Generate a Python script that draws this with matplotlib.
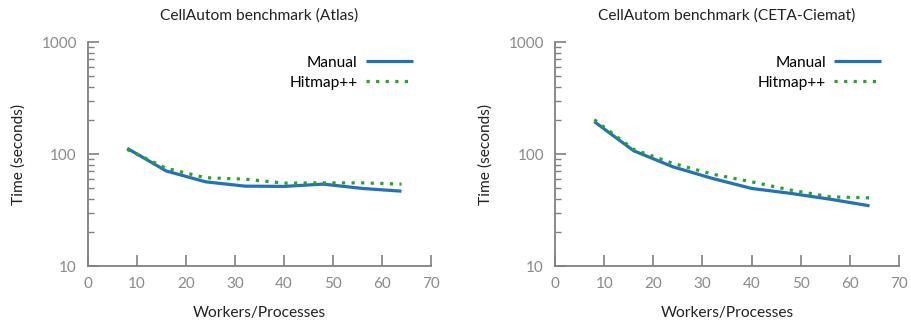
import matplotlib
matplotlib.use("Agg")
import matplotlib.pyplot as plt
from matplotlib.ticker import LogLocator, FixedLocator, NullFormatter

plt.rcParams['font.family'] = ['Lato', 'DejaVu Sans']

workers = [8, 16, 24, 32, 40, 48, 56, 64]

atlas_manual = [112.5, 70.5, 56.5, 51.7, 51.4, 53.9, 49.3, 46.6]
atlas_hitmap = [110.0, 74.5, 61.5, 59.7, 55.0, 55.3, 55.3, 53.9]

ceta_manual = [194.6, 107.0, 76.9, 60.6, 49.3, 44.5, 39.5, 34.5]
ceta_hitmap = [202.8, 110.0, 82.6, 66.2, 56.5, 47.6, 41.5, 40.6]

titles = ["CellAutom benchmark (Atlas)", "CellAutom benchmark (CETA-Ciemat)"]
x_ticks = [0, 10, 20, 30, 40, 50, 60, 70]
y_ticks = [10, 100, 1000]

BLUE = "#2272b4"
GREEN = "#2ca02c"
GRAY = "#808080"
TICKTXT = "#8a8a8a"
FS = 11.2

fig = plt.figure(figsize=(9.12, 3.25), dpi=100)
positions = [[0.0965, 0.1815, 0.376, 0.689], [0.6086, 0.1815, 0.3772, 0.689]]
series = [(atlas_manual, atlas_hitmap), (ceta_manual, ceta_hitmap)]

for pos, title, (manual, hitmap) in zip(positions, titles, series):
    ax = fig.add_axes(pos)
    ax.plot(workers, manual, color=BLUE, lw=2.3, label="Manual", solid_capstyle="butt")
    ax.plot(workers, hitmap, color=GREEN, lw=2.3, linestyle=(0, (1, 2)), label="Hitmap++")
    ax.set_yscale("log")
    ax.set_xlim(0, 70)
    ax.set_ylim(10, 1000)
    ax.xaxis.set_major_locator(FixedLocator(x_ticks))
    ax.yaxis.set_major_locator(FixedLocator(y_ticks))
    ax.set_yticklabels([str(v) for v in y_ticks])
    ax.yaxis.set_minor_locator(LogLocator(base=10, subs=range(2, 10)))
    ax.yaxis.set_minor_formatter(NullFormatter())
    for side in ("top", "right"):
        ax.spines[side].set_visible(False)
    for side in ("left", "bottom"):
        ax.spines[side].set_color(GRAY)
        ax.spines[side].set_linewidth(1.3)
    ax.tick_params(which="major", direction="in", length=8, width=1.2, color=GRAY,
                   labelcolor=TICKTXT, labelsize=11, pad=8)
    ax.tick_params(which="minor", direction="in", length=4, width=1.0, color=GRAY)
    ax.set_title(title, fontsize=FS, pad=16, color="#222222")
    ax.set_xlabel("Workers/Processes", fontsize=FS, labelpad=11, color="#222222")
    ax.set_ylabel("Time (seconds)", fontsize=FS, labelpad=11, color="#222222")
    ax.legend(loc="upper right", frameon=False, markerfirst=False, fontsize=FS,
              handlelength=3.0, handletextpad=0.55, labelspacing=0.4,
              borderpad=0, borderaxespad=0,
              bbox_to_anchor=(0.9475, 0.94))

fig.savefig("out.png", dpi=100)
